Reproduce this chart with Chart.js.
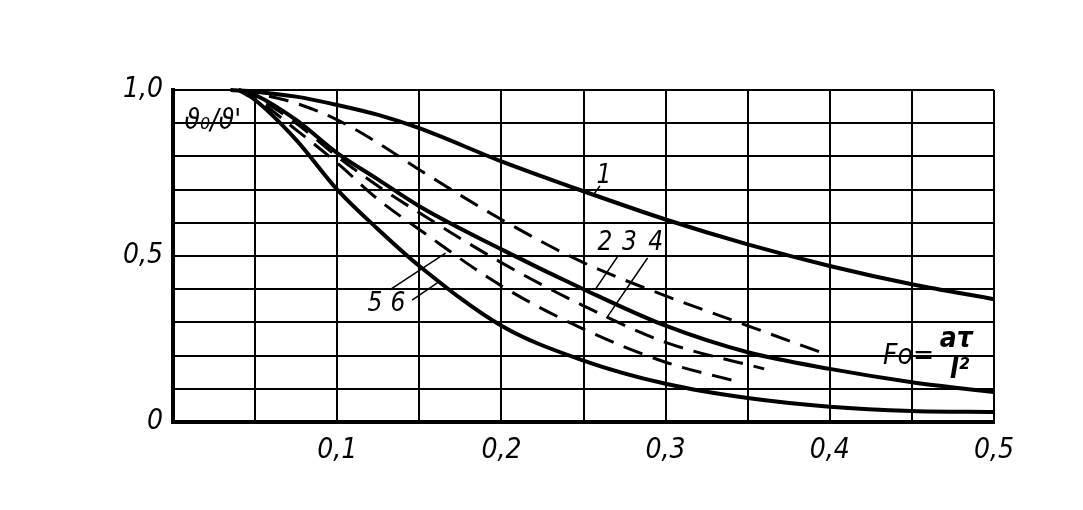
<!DOCTYPE html>
<html>
<head>
<meta charset="utf-8">
<script src="https://cdn.jsdelivr.net/npm/chart.js@4"></script>
<style>
  html, body { margin: 0; padding: 0; background: #fff; }
</style>
</head>
<body>
<canvas id="myChart" width="1083" height="510"></canvas>
<script>
// Fo values and theta0/theta' readings for each curve
const fo1 = [0.035, 0.05, 0.075, 0.1, 0.125, 0.15, 0.2, 0.25, 0.3, 0.35, 0.4, 0.45, 0.5];
const th1 = [1.0, 0.995, 0.98, 0.955, 0.925, 0.885, 0.785, 0.695, 0.61, 0.535, 0.47, 0.415, 0.37];

const fo2 = [0.04, 0.05, 0.075, 0.1, 0.125, 0.15, 0.2, 0.25, 0.3, 0.35, 0.4];
const th2 = [1.0, 0.99, 0.96, 0.91, 0.84, 0.76, 0.61, 0.48, 0.38, 0.29, 0.20];

const fo3 = [0.04, 0.05, 0.075, 0.1, 0.125, 0.15, 0.2, 0.25, 0.3, 0.35, 0.4, 0.45, 0.5];
const th3 = [1.0, 0.985, 0.91, 0.81, 0.73, 0.65, 0.52, 0.40, 0.29, 0.21, 0.16, 0.12, 0.09];

const fo4 = [0.04, 0.05, 0.075, 0.1, 0.125, 0.15, 0.2, 0.25, 0.3, 0.36];
const th4 = [1.0, 0.98, 0.90, 0.80, 0.71, 0.63, 0.48, 0.35, 0.24, 0.16];

const fo5 = [0.04, 0.05, 0.075, 0.1, 0.125, 0.15, 0.2, 0.25, 0.3, 0.345];
const th5 = [1.0, 0.975, 0.88, 0.78, 0.67, 0.58, 0.41, 0.28, 0.18, 0.12];

const fo6 = [0.04, 0.05, 0.075, 0.1, 0.125, 0.15, 0.2, 0.25, 0.3, 0.35, 0.4, 0.45, 0.5];
const th6 = [1.0, 0.97, 0.85, 0.70, 0.58, 0.47, 0.29, 0.185, 0.115, 0.072, 0.046, 0.033, 0.03];

// curve numbers and where they sit (data units)
const noteText = ['1', '2', '3', '4', '5', '6'];
const noteFo   = [0.2625, 0.263, 0.278, 0.294, 0.123, 0.137];
const noteTh   = [0.741, 0.539, 0.539, 0.539, 0.355, 0.355];

// leader lines: from label to curve
const leadFrom = [[0.260, 0.711], [0.271, 0.50], [0.289, 0.494], [0.132, 0.398], [0.1456, 0.367]];
const leadTo   = [[0.256, 0.684], [0.257, 0.398], [0.264, 0.313], [0.166, 0.509], [0.161, 0.419]];

const FONT = '"Liberation Sans Narrow", "DejaVu Sans Condensed", sans-serif';

function pts(xs, ys) {
  return xs.map((x, i) => ({ x: x, y: ys[i] }));
}

function curve(xs, ys, dashed) {
  return {
    data: pts(xs, ys),
    borderColor: '#000',
    borderWidth: dashed ? 3 : 4,
    borderDash: dashed ? [20, 11] : [],
    pointRadius: 0,
    fill: false,
    cubicInterpolationMode: 'monotone',
    clip: false
  };
}

const notes = {
  id: 'notes',
  afterDatasetsDraw(chart) {
    const c = chart.ctx;
    const sx = chart.scales.x, sy = chart.scales.y;
    c.save();
    c.fillStyle = '#000';
    c.strokeStyle = '#000';
    c.textAlign = 'center';
    c.textBaseline = 'middle';
    c.font = 'italic 26px ' + FONT;
    for (let i = 0; i < noteText.length; i++) {
      c.fillText(noteText[i], sx.getPixelForValue(noteFo[i]), sy.getPixelForValue(noteTh[i]));
    }
    c.lineWidth = 1.5;
    for (let i = 0; i < leadFrom.length; i++) {
      c.beginPath();
      c.moveTo(sx.getPixelForValue(leadFrom[i][0]), sy.getPixelForValue(leadFrom[i][1]));
      c.lineTo(sx.getPixelForValue(leadTo[i][0]), sy.getPixelForValue(leadTo[i][1]));
      c.stroke();
    }
    // axis title inside the plot
    c.font = 'italic 28px ' + FONT;
    c.textAlign = 'left';
    c.fillText("\u03D1\u2080/\u03D1'", sx.getPixelForValue(0.007), sy.getPixelForValue(0.905));
    // Fo = a tau / l^2
    c.font = 'italic 28px ' + FONT;
    c.textAlign = 'right';
    c.fillText('Fo=', sx.getPixelForValue(0.4635), sy.getPixelForValue(0.196));
    c.textAlign = 'center';
    c.font = 'italic bold 28px ' + FONT;
    c.fillText('a\u03C4', sx.getPixelForValue(0.477), sy.getPixelForValue(0.248));
    c.fillText('l\u00B2', sx.getPixelForValue(0.479), sy.getPixelForValue(0.155));
    c.restore();
  }
};

const ctx = document.getElementById('myChart');

const chart = new Chart(ctx, {
  type: 'line',
  data: {
    datasets: [
      curve(fo1, th1, false),
      curve(fo2, th2, true),
      curve(fo3, th3, false),
      curve(fo4, th4, true),
      curve(fo5, th5, true),
      curve(fo6, th6, false)
    ]
  },
  options: {
    responsive: false,
    animation: false,
    layout: { padding: { top: 90, right: 89, left: 0, bottom: 0 } },
    plugins: {
      legend: { display: false },
      tooltip: { enabled: false }
    },
    scales: {
      x: {
        type: 'linear',
        min: 0,
        max: 0.5,
        afterFit: (s) => { s.height = 88; },
        grid: { color: '#000', lineWidth: 2, drawTicks: false },
        border: { color: '#000', width: 4 },
        ticks: {
          stepSize: 0.05,
          autoSkip: false,
          maxRotation: 0,
          padding: 12,
          color: '#000',
          font: { family: FONT, size: 28, style: 'italic' },
          callback: (v) => {
            const k = Math.round(v * 100);
            return (k > 0 && k % 10 === 0) ? (k / 100).toFixed(1).replace('.', ',') : '';
          }
        }
      },
      y: {
        min: 0,
        max: 1,
        afterFit: (s) => { s.width = 173; },
        grid: { color: '#000', lineWidth: 2, drawTicks: false },
        border: { color: '#000', width: 4 },
        ticks: {
          stepSize: 0.1,
          autoSkip: false,
          padding: 10,
          color: '#000',
          font: { family: FONT, size: 28, style: 'italic' },
          callback: (v) => {
            const k = Math.round(v * 10);
            if (k === 10) return '1,0';
            if (k === 5) return '0,5';
            if (k === 0) return '0';
            return '';
          }
        }
      }
    }
  },
  plugins: [notes]
});
</script>
</body>
</html>
